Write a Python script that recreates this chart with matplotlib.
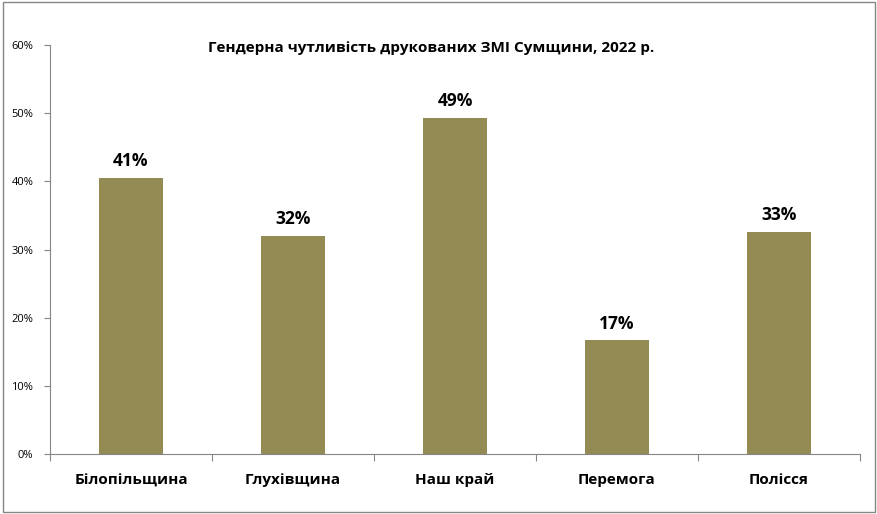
import matplotlib
matplotlib.use("Agg")
import matplotlib.pyplot as plt
from matplotlib.patches import Rectangle
from matplotlib.ticker import FuncFormatter, MultipleLocator

# Data
categories = ["Білопільщина", "Глухівщина", "Наш край", "Перемога", "Полісся"]
values = [40.5, 32.0, 49.3, 16.7, 32.6]
labels = ["41%", "32%", "49%", "17%", "33%"]

plt.rcParams['font.family'] = ['Open Sans', 'DejaVu Sans']

fig = plt.figure(figsize=(8.78, 5.14), dpi=100)
ax = fig.add_axes([50 / 878, 60 / 514, 810 / 878, 409 / 514])

x = range(len(categories))
bars = ax.bar(x, values, width=0.4, color="#948A54", zorder=2)

for bar, lab in zip(bars, labels):
    ax.text(bar.get_x() + bar.get_width() / 2, bar.get_height() + 1.1, lab,
            ha="center", va="bottom", fontsize=12.5, fontweight="bold")

ax.set_xlim(-0.5, len(categories) - 0.5)
ax.set_ylim(0, 60)
ax.yaxis.set_major_locator(MultipleLocator(10))
ax.yaxis.set_major_formatter(FuncFormatter(lambda v, p: f"{v:.0f}%"))
ax.set_xticks([i + 0.5 for i in range(-1, len(categories))], minor=False)
ax.set_xticklabels([])
ax.set_xticks(list(x), minor=True)
ax.set_xticklabels(categories, minor=True, fontsize=11, fontweight="bold")
ax.tick_params(axis="x", which="minor", length=0, pad=14)
ax.tick_params(axis="x", which="major", length=5, color="#868686", direction="out")
ax.tick_params(axis="y", length=4, color="#868686", labelsize=8, pad=8)

for s in ["top", "right"]:
    ax.spines[s].set_visible(False)
for s in ["left", "bottom"]:
    ax.spines[s].set_color("#868686")

ax.set_title("Гендерна чутливість друкованих ЗМІ Сумщини, 2022 р.",
             fontsize=11, fontweight="bold", y=0.963, x=0.47)

fig.patches.append(Rectangle((0.003, 0.003), 0.994, 0.994, transform=fig.transFigure,
                             fill=False, edgecolor="#868686", linewidth=1))

fig.savefig("out.png", dpi=100)
